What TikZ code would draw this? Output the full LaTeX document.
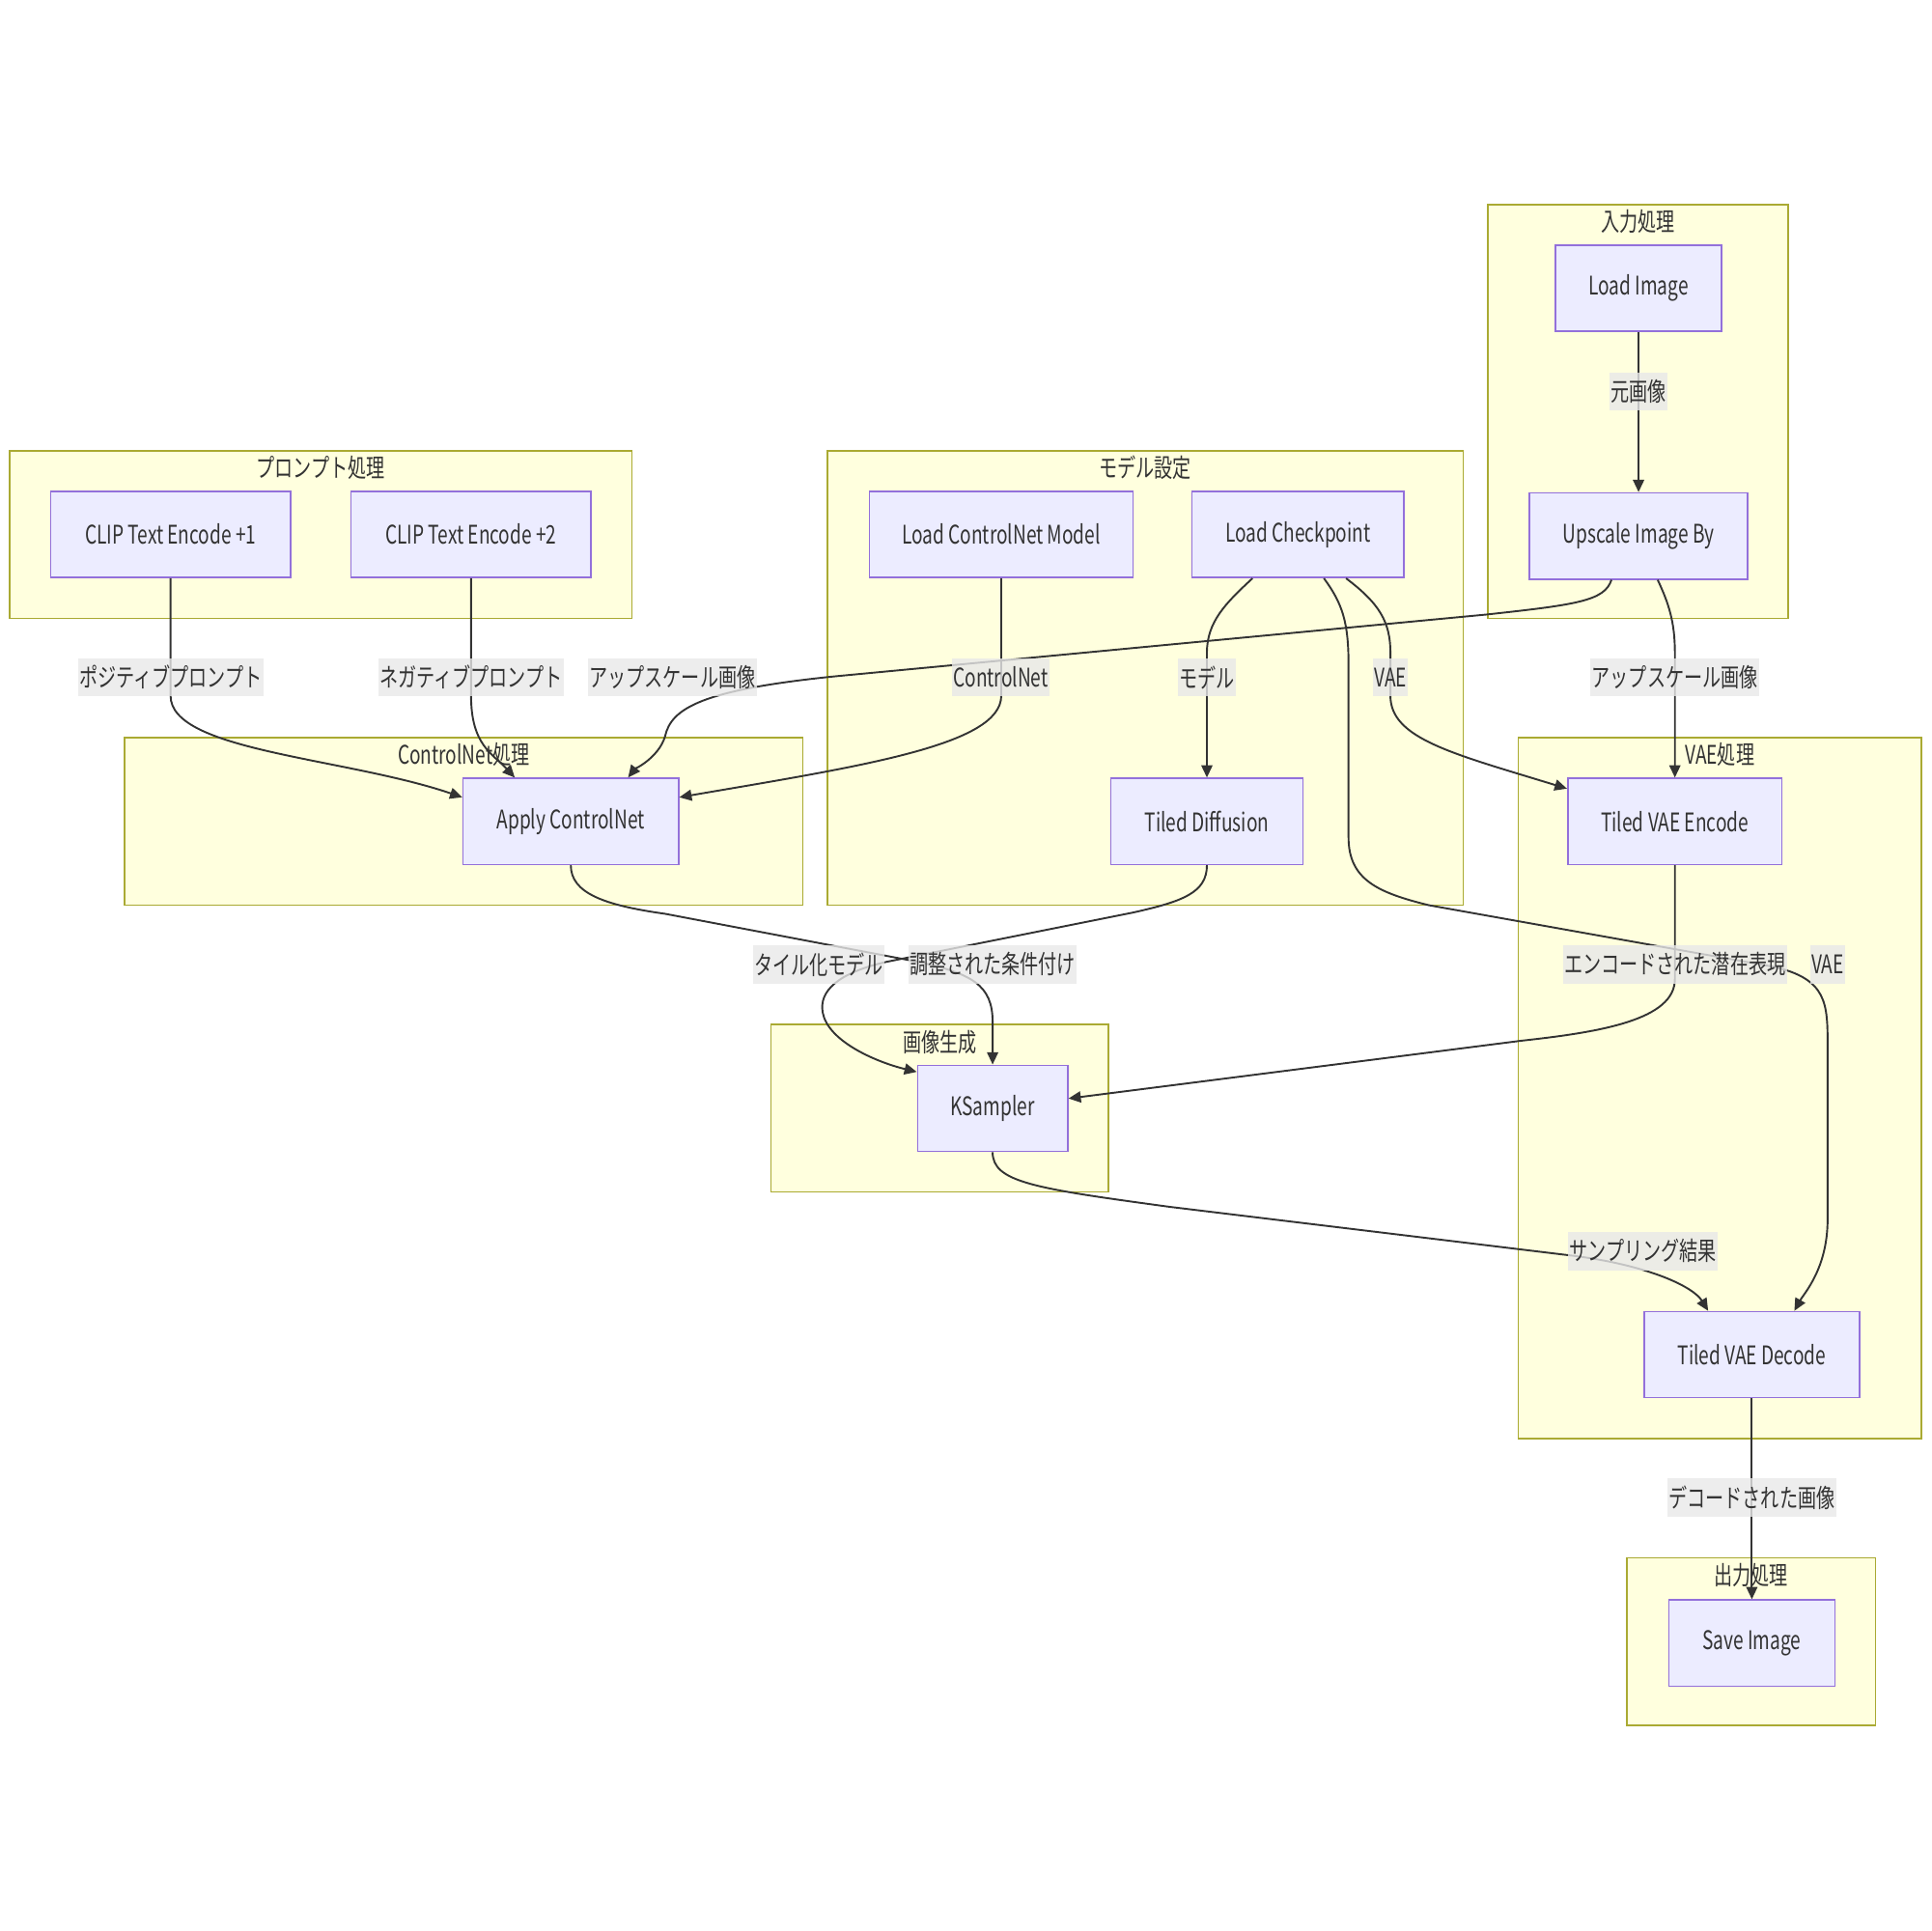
\documentclass[tikz,border=0pt]{standalone}
\usepackage{fontspec}
\setmainfont[FakeStretch=0.72]{Noto Sans CJK JP}
\usepackage{tikz}
\usetikzlibrary{positioning, arrows.meta}
\definecolor{ink}{HTML}{333333}
\definecolor{grpfill}{HTML}{FFFFDE}
\definecolor{grpline}{HTML}{AAAA33}
\definecolor{boxfill}{HTML}{ECECFF}
\definecolor{boxline}{HTML}{9370DB}
\definecolor{lblfill}{HTML}{E8E8E8}

\begin{document}
\begin{tikzpicture}[
        x=0.5pt, y=-0.5pt,
        font=\fontsize{10.4}{12.5}\selectfont, text=ink,
        box/.style = {rectangle, draw=boxline, fill=boxfill, line width=0.6pt,
                    minimum width=#1, minimum height=35pt, inner sep=0pt},
        grp/.style = {draw=grpline, fill=grpfill, line width=0.6pt},
        lbl/.style = {fill=lblfill, fill opacity=0.8, text opacity=1,
                    inner xsep=0.5pt, inner ysep=0pt, minimum height=15.5pt},
        arr/.style = {draw=ink, line width=0.75pt, -{Triangle[length=5pt, width=4.5pt]}}
                    ]
        \useasboundingbox (0,0) rectangle (1568,1568);
        \path[grp] (1208,166) rectangle (1452,502);
        \path[grp] (8,366) rectangle (513,502);
        \path[grp] (672,366) rectangle (1188,735);
        \path[grp] (101,599) rectangle (652,735);
        \path[grp] (1233,599) rectangle (1560,1168);
        \path[grp] (626,832) rectangle (900,968);
        \path[grp] (1321,1265) rectangle (1523,1401);
        \node (g1) at (1330,180) {入力処理};
        \node (g2) at (260.5,380) {プロンプト処理};
        \node (g3) at (930,380) {モデル設定};
        \node (g4) at (376.5,613) {ControlNet処理};
        \node (g5) at (1396.5,613) {VAE処理};
        \node (g6) at (763,846) {画像生成};
        \node (g7) at (1422,1279) {出力処理};
        %
        \node (limg) [box=67.5pt] at (1330.5,234) {Load Image};
        \node (ups) [box=88.5pt, below=65pt of limg] {Upscale Image By};
        \node (clip1) [box=97.5pt] at (138.5,434) {CLIP Text Encode +1};
        \node (clip2) [box=97.5pt] at (382.5,434) {CLIP Text Encode +2};
        \node (lcn) [box=107pt] at (813,434) {Load ControlNet Model};
        \node (ckpt) [box=86pt] at (1054,434) {Load Checkpoint};
        \node (acn) [box=87.5pt] at (463.5,667) {Apply ControlNet};
        \node (tdiff) [box=78pt] at (980,667) {Tiled Diffusion};
        \node (venc) [box=87pt] at (1360,667) {Tiled VAE Encode};
        \node (ksam) [box=61pt] at (806,900) {KSampler};
        \node (vdec) [box=87.5pt] at (1422.5,1100) {Tiled VAE Decode};
        \node (save) [box=67.5pt, below=81.5pt of vdec] {Save Image};
        %
        \draw[arr] (limg) -- (ups);
        \draw[arr] (clip1) -- (138.5,565) .. controls (138.5,610) and (280,615) .. ([yshift=-8pt]acn.north west);
        \draw[arr] (clip2) -- (382.5,565) .. controls (382.5,605) and (400,612) .. ([xshift=-22.75pt]acn.north);
        \draw[arr] ([xshift=-11pt]ups.south) .. controls (1303,488) and (1280,491) .. (1207,499) -- (680,549)
            .. controls (570,560) and (545,575) .. (540,598) .. controls (535,615) and (515,625) .. ([xshift=23.25pt]acn.north);
        \draw[arr] (lcn) -- (813,565) .. controls (813,605) and (700,622) .. ([yshift=-8pt]acn.north east);
        \draw[arr] ([xshift=-18.5pt]ckpt.south) .. controls (995,490) and (980,505) .. (980,530) -- (tdiff);
        \draw[arr] ([xshift=19.5pt]ckpt.south) .. controls (1120,490) and (1129,505) .. (1129,530) -- (1129,565)
            .. controls (1129,600) and (1180,612) .. ([yshift=-4.5pt]venc.north west);
        \draw[arr] ([xshift=7.75pt]ups.south) .. controls (1355,490) and (1360,505) .. (1360,530) -- (venc);
        \draw[arr] ([xshift=10.5pt]ckpt.south) .. controls (1090,490) and (1095,505) .. (1095,540) -- (1095,680)
            .. controls (1095,715) and (1120,725) .. (1160,735) -- (1440,785) .. controls (1484,795) and (1484,815) .. (1484,850)
            -- (1484,990) .. controls (1484,1030) and (1465,1050) .. ([xshift=17.25pt]vdec.north);
        \draw[arr] (acn.south) .. controls (463.5,725) and (490,735) .. (540,742) -- (740,780)
            .. controls (790,790) and (806,800) .. (806,830) -- (ksam);
        \draw[arr] (tdiff.south) .. controls (980,725) and (960,732) .. (920,741) -- (720,781)
            .. controls (680,790) and (665,805) .. (668,822) .. controls (672,845) and (710,862) .. ([yshift=-3pt]ksam.north west);
        \draw[arr] (venc) -- (1360,795) .. controls (1360,828) and (1300,838) .. (1236,845) -- ([yshift=4pt]ksam.east);
        \draw[arr] (ksam.south) .. controls (806,960) and (840,965) .. (950,980) -- (1280,1020)
            .. controls (1340,1028) and (1375,1045) .. ([xshift=-17.75pt]vdec.north);
        \draw[arr] (vdec) -- (save);
        %
        \node (l1) [lbl] at (1330.5,318) {元画像};
        \node (l2) [lbl] at (138.5,550) {ポジティブプロンプト};
        \node (l3) [lbl] at (382.5,550) {ネガティブプロンプト};
        \node (l4) [lbl] at (546,550) {アップスケール画像};
        \node (l5) [lbl] at (812.5,550) {ControlNet};
        \node (l6) [lbl] at (980,550) {モデル};
        \node (l7) [lbl] at (1129,550) {VAE};
        \node (l8) [lbl] at (1360,550) {アップスケール画像};
        \node (l9) [lbl] at (665,783) {タイル化モデル};
        \node (l10) [lbl] at (806,783) {調整された条件付け};
        \node (l11) [lbl] at (1360,783) {エンコードされた潜在表現};
        \node (l12) [lbl] at (1484,783) {VAE};
        \node (l13) [lbl] at (1334,1016) {サンプリング結果};
        \node (l14) [lbl] at (1422.5,1216) {デコードされた画像};
    \end{tikzpicture}
\end{document}
